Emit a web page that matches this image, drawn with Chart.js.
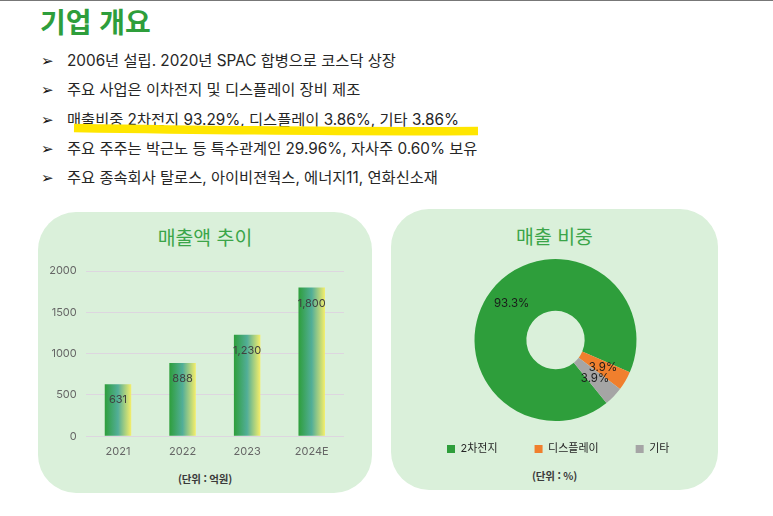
<!DOCTYPE html>
<html lang="ko"><head><meta charset="utf-8">
<script src="https://cdn.jsdelivr.net/npm/chart.js@4"></script>
<style>
html,body{margin:0;padding:0;background:#fff}
body{width:773px;height:516px;position:relative;overflow:hidden;font-family:Inter,"Noto Sans CJK KR",sans-serif;filter:blur(0.3px)}
#top{position:absolute;left:0;top:0;width:773px;height:1px;background:#777}
h1{position:absolute;left:40px;top:2px;margin:0;font-size:28px;line-height:38px;font-weight:700;color:#2E9E3B;font-family:"Noto Sans CJK KR"}
.b{position:absolute;left:67px;font-size:15.3px;line-height:22px;color:#262626;white-space:nowrap}
.a{position:absolute;left:41px;font-size:15px;line-height:22px;color:#111;font-family:"DejaVu Sans"}
.panel{position:absolute;background:#DAF0DA}
.t{position:absolute;text-align:center;font-size:19.4px;line-height:26px;color:#3BA549;font-family:"Noto Sans CJK KR"}
.u{position:absolute;text-align:center;font-size:10.5px;line-height:14px;font-weight:700;letter-spacing:-0.2px;color:#3a3a3a;font-family:"Noto Sans CJK KR"}
canvas{position:absolute}
svg{position:absolute;left:0;top:0}
</style></head><body>
<div id="top"></div>
<h1>기업 개요</h1>
<div id="bul"></div>
<svg width="773" height="516"><path d="M74 128 C200 130 330 132 478 131" stroke="#FFE600" stroke-width="8.5" fill="none"/></svg>
<div class="panel" style="left:38px;top:212px;width:334px;height:281px;border-radius:38px"></div>
<div class="panel" style="left:391px;top:209px;width:327px;height:281px;border-radius:38px"></div>
<div class="t" style="left:38px;top:224px;width:334px">매출액 추이</div>
<div class="t" style="left:391px;top:223px;width:327px">매출 비중</div>
<div class="u" style="left:38px;top:472px;width:334px">(단위 : 억원)</div>
<div class="u" style="left:391px;top:469px;width:327px">(단위 : %)</div>
<canvas id="bar" style="left:38px;top:212px"></canvas>
<canvas id="pie" style="left:391px;top:209px"></canvas>
<script>
const bullets=["2006년 설립. 2020년 SPAC 합병으로 코스닥 상장","주요 사업은 이차전지 및 디스플레이 장비 제조","매출비중 2차전지 93.29%, 디스플레이 3.86%, 기타 3.86%","주요 주주는 박근노 등 특수관계인 29.96%, 자사주 0.60% 보유","주요 종속회사 탈로스, 아이비젼웍스, 에너지11, 연화신소재"];
const years=["2021","2022","2023","2024E"];
const sales=[631,888,1230,1800];
const yTicks=[0,500,1000,1500,2000];
const shareLabels=["2차전지","디스플레이","기타"];
const shareValues=[93.29,3.86,3.86];
const shareColors=["#2E9E3B","#F07F2D","#A5A5A5"];

const FONT='Inter,"Noto Sans CJK KR",sans-serif';
const bulTops=[50,79,109,138,167];
document.getElementById('bul').innerHTML=bullets.map((s,i)=>`<div class="a" style="top:${bulTops[i]}px">➢</div><div class="b" style="top:${bulTops[i]}px">${s}</div>`).join('');

function size(id,w,h){const c=document.getElementById(id);c.width=w;c.height=h;c.style.width=w+'px';c.style.height=h+'px';return c;}
Chart.defaults.animation=false;
Chart.defaults.responsive=false;
Chart.defaults.font.family=FONT;

new Chart(size('bar',334,281),{
  type:'bar',
  data:{labels:years,datasets:[{data:sales,barPercentage:0.41,categoryPercentage:1,
    backgroundColor(ctx){
      const ch=ctx.chart,x=ch.scales.x;
      if(!x||ctx.dataIndex===undefined)return '#2E9E3B';
      const c=x.getPixelForValue(ctx.dataIndex),hw=x.width/4*0.41/2;
      if(!isFinite(c)||!isFinite(hw))return '#2E9E3B';
      const g=ch.ctx.createLinearGradient(c-hw,0,c+hw,0);
      g.addColorStop(0,'#2E9E3B');g.addColorStop(0.5,'#52AE98');g.addColorStop(1,'#F5EE6A');
      return g;
    }}]},
  options:{
    layout:{padding:{top:59,right:28,left:0,bottom:0}},
    plugins:{legend:{display:false},tooltip:{enabled:false}},
    scales:{
      x:{grid:{display:false},border:{display:false},
         ticks:{color:'#666',font:{size:11},padding:1,maxRotation:0},
         afterFit(a){a.height=56.7;}},
      y:{min:0,max:2000,afterBuildTicks(a){a.ticks=yTicks.map(v=>({value:v}));},
         grid:{color:'#DDD6DF',lineWidth:1,drawTicks:false},border:{display:false},
         ticks:{color:'#666',font:{size:11},padding:9,callback:v=>String(v)},
         afterFit(a){a.width=47.7;}}
    }
  },
  plugins:[{id:'vals',afterDatasetsDraw(ch){
    const c=ch.ctx;c.save();c.font='11px '+FONT;c.fillStyle='#404040';c.textAlign='center';c.textBaseline='middle';
    ch.getDatasetMeta(0).data.forEach((el,i)=>c.fillText(sales[i].toLocaleString('en-US'),el.x,el.y+16));
    c.restore();
  }}]
});

new Chart(size('pie',329,281),{
  type:'doughnut',
  data:{labels:shareLabels,datasets:[{data:shareValues,backgroundColor:shareColors,borderWidth:0}]},
  options:{
    rotation:141,radius:81,cutout:'36%',
    layout:{padding:{top:39,bottom:0}},
    plugins:{tooltip:{enabled:false},
      legend:{position:'bottom',align:'start',labels:{boxWidth:8,boxHeight:8,padding:37,color:'#262626',font:{size:11}}}}
  },
  plugins:[{id:'legendPos',afterLayout(ch){ch.legend.left=19;ch.legend.top=197.5;}},
  {id:'vals',afterDatasetsDraw(ch){
    const c=ch.ctx;c.save();c.font='11.5px '+FONT;c.fillStyle='#1a1a1a';c.textAlign='center';c.textBaseline='middle';
    ch.getDatasetMeta(0).data.forEach((el,i)=>{
      const p=el.getCenterPoint();
      c.fillText(shareValues[i].toFixed(1)+'%',p.x,p.y-(i===0?3:0));
    });
    c.restore();
  }}]
});
</script>
</body></html>
